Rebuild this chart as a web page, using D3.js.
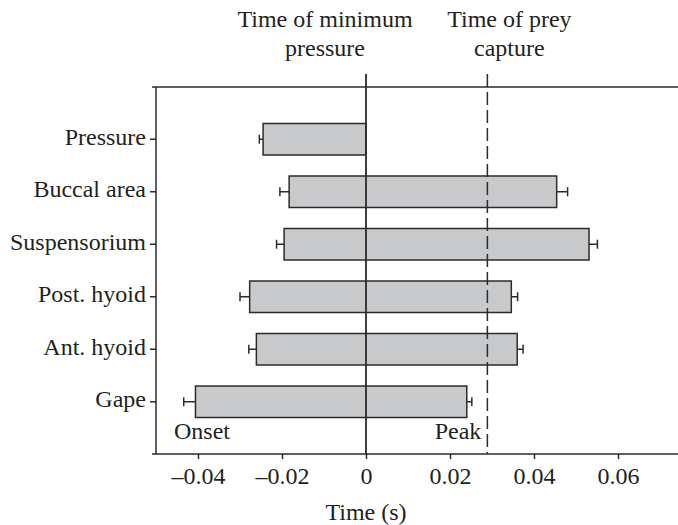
<!DOCTYPE html>
<html>
<head>
    <meta charset="utf-8">
    <title>Onset and peak timing</title>
    <script type="text/javascript" src="https://cdn.jsdelivr.net/npm/d3@7/dist/d3.min.js"></script>
    <style>
        body { margin: 0; background: #fff; }
        text { font-family: "Liberation Serif", "Times New Roman", serif; fill: #231f20; }
    </style>
</head>

<body>

<script type="text/javascript">
    // values (seconds, relative to time of minimum pressure)
    var categories = ["Pressure", "Buccal area", "Suspensorium", "Post. hyoid", "Ant. hyoid", "Gape"];
    var onset    = [-0.0245, -0.0183, -0.0195, -0.0277, -0.0261, -0.0406];
    var onsetErr = [0.0009, 0.0022, 0.0018, 0.0023, 0.0018, 0.0028];
    var peak     = [0, 0.0454, 0.0531, 0.0346, 0.0360, 0.0240];
    var peakErr  = [0, 0.0026, 0.0020, 0.0015, 0.0014, 0.0012];
    var xTicks = [-0.04, -0.02, 0, 0.02, 0.04, 0.06];
    var preyCapture = 0.0289;

    var width = 678,
            height = 525,
            plotTop = 87,
            plotBottom = 454,
            plotLeft = 156,
            ink = "#2b2b2b",
            barFill = "#c8c9cb";

    var svg = d3.select("body").append("svg")
            .attr("width", width)
            .attr("height", height);

    var x = d3.scaleLinear()
            .domain([-0.05, 0.075])
            .range([plotLeft, plotLeft + 525]);

    var y = d3.scaleBand()
            .domain(categories)
            .range([plotTop, plotBottom])
            .paddingInner(0.4)
            .paddingOuter(0.695);

    var rows = categories.map(function (c, i) {
        return {name: c, onset: onset[i], onsetErr: onsetErr[i], peak: peak[i], peakErr: peakErr[i]};
    });

    // frame lines
    svg.append("line")
            .attr("x1", plotLeft - 4).attr("x2", width)
            .attr("y1", plotTop).attr("y2", plotTop)
            .attr("stroke", ink).attr("stroke-width", 1.5);
    svg.append("line")
            .attr("x1", plotLeft - 4).attr("x2", width)
            .attr("y1", plotBottom).attr("y2", plotBottom)
            .attr("stroke", ink).attr("stroke-width", 1.5);
    svg.append("line")
            .attr("x1", plotLeft).attr("x2", plotLeft)
            .attr("y1", plotTop).attr("y2", plotBottom)
            .attr("stroke", ink).attr("stroke-width", 1.5);

    // bars
    svg.append("g").selectAll("rect")
            .data(rows)
            .enter()
            .append("rect")
            .attr("x", function (d) { return x(d.onset); })
            .attr("y", function (d) { return y(d.name); })
            .attr("width", function (d) { return x(d.peak) - x(d.onset); })
            .attr("height", y.bandwidth())
            .attr("fill", barFill)
            .attr("stroke", ink)
            .attr("stroke-width", 1.5);

    // error bars
    var err = svg.append("g").attr("stroke", ink).attr("stroke-width", 1.5);
    rows.forEach(function (d) {
        var cy = y(d.name) + y.bandwidth() / 2;
        var ends = [[d.onset, d.onset - d.onsetErr]];
        if (d.peakErr > 0) ends.push([d.peak, d.peak + d.peakErr]);
        ends.forEach(function (e) {
            err.append("line")
                    .attr("x1", x(e[0])).attr("x2", x(e[1]))
                    .attr("y1", cy).attr("y2", cy);
            err.append("line")
                    .attr("x1", x(e[1])).attr("x2", x(e[1]))
                    .attr("y1", cy - 4.5).attr("y2", cy + 4.5);
        });
    });

    // reference lines
    svg.append("line")
            .attr("x1", x(0)).attr("x2", x(0))
            .attr("y1", plotTop - 13).attr("y2", plotBottom)
            .attr("stroke", ink).attr("stroke-width", 1.8);
    svg.append("line")
            .attr("x1", x(preyCapture)).attr("x2", x(preyCapture))
            .attr("y1", plotTop - 13).attr("y2", plotBottom)
            .attr("stroke", ink).attr("stroke-width", 1.5)
            .attr("stroke-dasharray", "13,5");

    // axes
    var yAxis = svg.append("g")
            .attr("transform", "translate(" + plotLeft + ",0)")
            .call(d3.axisLeft(y).tickSize(6).tickPadding(4).tickSizeOuter(0));
    yAxis.select(".domain").remove();
    yAxis.selectAll("line").attr("stroke", ink).attr("stroke-width", 1.5);
    yAxis.selectAll("text")
            .attr("dy", "0.22em")
            .style("font-size", "24px")
            .style("font-family", "'Liberation Serif', 'Times New Roman', serif")
            .attr("fill", "#231f20");

    var xAxis = svg.append("g")
            .attr("transform", "translate(0," + plotBottom + ")")
            .call(d3.axisBottom(x).tickValues(xTicks).tickSize(5).tickPadding(8)
                    .tickFormat(function (d) {
                        return d === 0 ? "0" : (d < 0 ? "\u2013" : "") + Math.abs(d).toFixed(2);
                    }));
    xAxis.select(".domain").remove();
    xAxis.selectAll("line").attr("stroke", ink).attr("stroke-width", 1.5);
    xAxis.selectAll("text")
            .style("font-size", "24px")
            .style("font-family", "'Liberation Serif', 'Times New Roman', serif")
            .attr("fill", "#231f20");

    // labels
    function label(txt, px, py, anchor) {
        svg.append("text")
                .attr("x", px).attr("y", py)
                .attr("text-anchor", anchor)
                .style("font-size", "24px")
                .text(txt);
    }
    label("Time of minimum", x(0) - 41, 27, "middle");
    label("pressure", x(0) - 41, 56, "middle");
    label("Time of prey", x(preyCapture) + 22, 27, "middle");
    label("capture", x(preyCapture) + 22, 56, "middle");
    label("Onset", 174, 439, "start");
    label("Peak", x(preyCapture) - 6, 439, "end");
    label("Time (s)", x(0), 520, "middle");
</script>

</body>

</html>
